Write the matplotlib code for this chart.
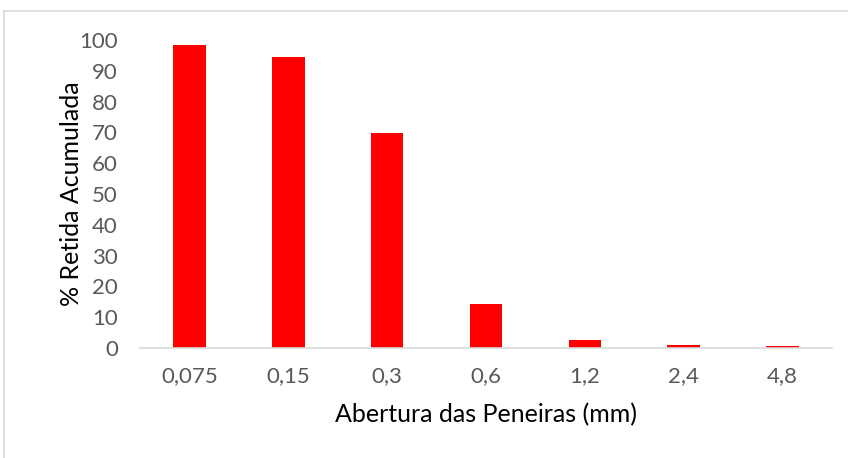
import matplotlib
matplotlib.use("Agg")
import matplotlib.pyplot as plt
from matplotlib.lines import Line2D

aberturas = ["0,075", "0,15", "0,3", "0,6", "1,2", "2,4", "4,8"]
retida_acumulada = [98.3, 94.5, 69.7, 14.3, 2.7, 1.1, 0.5]
y_ticks = [0, 10, 20, 30, 40, 50, 60, 70, 80, 90, 100]

plt.rcParams["font.family"] = ["Lato", "DejaVu Sans"]

W, H = 848, 458
fig = plt.figure(figsize=(W / 100, H / 100), dpi=100)
ax = fig.add_axes([140 / W, 1 - 348 / H, (832 - 140) / W, (348 - 40) / H])

x = list(range(len(aberturas)))
ax.bar(x, retida_acumulada, width=0.33, color="#ff0000", zorder=2)

ax.set_xlim(-0.5, len(aberturas) - 0.5)
ax.set_ylim(0, 100)
ax.set_yticks(y_ticks)
ax.set_xticks(x)
ax.set_xticklabels(aberturas)

for side in ("top", "right", "left"):
    ax.spines[side].set_visible(False)
ax.spines["bottom"].set_color("#d9d9d9")
ax.spines["bottom"].set_linewidth(1.2)
ax.tick_params(axis="both", length=0, labelsize=16, colors="#595959")
ax.tick_params(axis="x", pad=13)
ax.tick_params(axis="y", pad=16)

ax.set_ylabel("% Retida Acumulada", fontsize=18, color="#000000", labelpad=-3)
ax.set_xlabel("Abertura das Peneiras (mm)", fontsize=18, color="#000000", labelpad=12)

# light frame around the chart area
fig.add_artist(Line2D([4 / W, 4 / W], [0, 1 - 11 / H], transform=fig.transFigure,
                      color="#d9d9d9", linewidth=1.2))
fig.add_artist(Line2D([4 / W, 1], [1 - 11 / H, 1 - 11 / H], transform=fig.transFigure,
                      color="#d9d9d9", linewidth=1.2))

fig.savefig("out.png", dpi=100)
